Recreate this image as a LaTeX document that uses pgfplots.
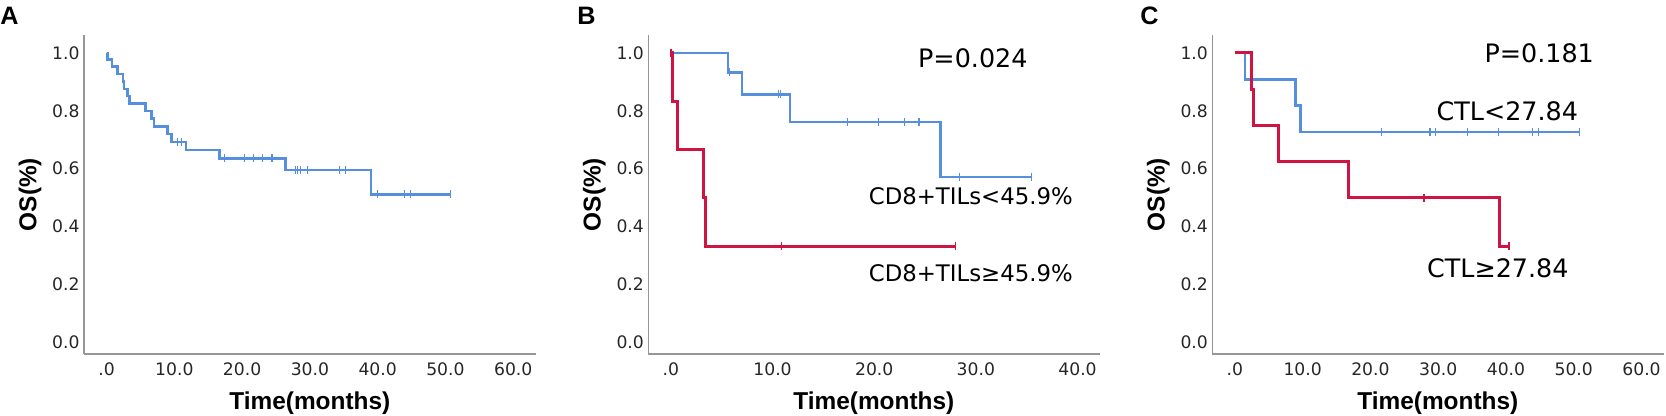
\documentclass[border=0pt]{standalone}
\usepackage{fontspec}
\setmainfont{DejaVu Sans}
\newfontfamily\lib{Liberation Sans}
\usepackage{pgfplots}
\pgfplotsset{compat=1.18}
\definecolor{kmblue}{RGB}{86,143,222}
\definecolor{kmred}{RGB}{207,20,67}
\definecolor{axgray}{RGB}{150,150,150}
\pgfplotsset{kmaxis/.style={
  scale only axis, width=225.9pt, height=159.5pt,
  axis x line*=bottom, axis y line*=left,
  axis line style={axgray, line width=0.7pt, -},
  major tick length=0pt,
  ymin=-0.04, ymax=1.062,
  ytick={0,0.2,0.4,0.6,0.8,1}, yticklabels={0.0,0.2,0.4,0.6,0.8,1.0},
  tick label style={font=\fontsize{8.6}{10}\selectfont, text=black!85},
  yticklabel style={anchor=east, inner sep=0pt, xshift=-2pt},
  xticklabel style={anchor=base, inner sep=0pt, yshift=-11pt},
  clip=false,
  /pgf/number format/assume math mode=true,
},
bluestep/.style={kmblue, line width=1.3pt, const plot, no marks},
redstep/.style={kmred, line width=1.5pt, const plot, no marks},
bluecens/.style={only marks, mark=|, mark size=2pt, kmblue, mark options={line width=0.6pt}},
redcens/.style={only marks, mark=|, mark size=2pt, kmred, mark options={line width=0.8pt}},
}
\begin{document}
\begin{tikzpicture}
\useasboundingbox (0,0) rectangle (833pt,-208pt);
% ---------- Panel A ----------
\begin{axis}[kmaxis, at={(42pt,-177pt)}, anchor=south west,
  xmin=-3.33, xmax=63.33, xtick={0,10,20,30,40,50,60},
  xticklabels={.0,10.0,20.0,30.0,40.0,50.0,60.0}]
\addplot[bluestep] coordinates {
(0,1.0) (0.1,0.978) (0.8,0.953) (1.6,0.927) (2.4,0.901) (2.6,0.876) (3.1,0.851)
(3.4,0.826) (5.7,0.800) (6.6,0.774) (7.0,0.746) (9.0,0.720) (9.6,0.693)
(11.7,0.665) (16.7,0.636) (26.4,0.595) (39.0,0.511) (50.7,0.511)};
\addplot[bluecens] coordinates {
(10.5,0.693) (11.0,0.693)
(17.4,0.636) (20.4,0.636) (21.7,0.636) (23.0,0.636) (24.4,0.636)
(27.9,0.595) (28.2,0.595) (28.6,0.595) (29.6,0.595) (34.4,0.595) (35.3,0.595)
(40.0,0.511) (43.9,0.511) (44.8,0.511) (50.7,0.511)};
\end{axis}
% ---------- Panel B ----------
\begin{axis}[kmaxis, at={(324.15pt,-177pt)}, anchor=south west,
  xmin=-2.22, xmax=42.22, xtick={0,10,20,30,40},
  xticklabels={.0,10.0,20.0,30.0,40.0}]
\addplot[bluestep] coordinates {
(0,1.0) (5.6,0.933) (7.0,0.857) (11.7,0.761) (26.5,0.571) (35.5,0.571)};
\addplot[bluecens] coordinates {
(5.8,0.933) (10.6,0.857) (10.8,0.857)
(17.4,0.761) (20.4,0.761) (23.0,0.761) (24.4,0.761)
(28.4,0.571) (35.5,0.571)};
\addplot[redstep] coordinates {
(0,1.0) (0.2,0.833) (0.7,0.667) (3.2,0.500) (3.4,0.333) (28.0,0.333)};
\addplot[redcens] coordinates {(0,1.0) (10.9,0.333) (28.0,0.333)};
\node[font=\fontsize{12.7}{14}\selectfont] at (axis cs:29.7,0.983) {P=0.024};
\node[font=\fontsize{11.4}{13}\selectfont] at (axis cs:29.5,0.504) {CD8+TILs<45.9\%};
\node[font=\fontsize{11.4}{13}\selectfont] at (axis cs:29.5,0.239) {CD8+TILs≥45.9\%};
\end{axis}
% ---------- Panel C ----------
\begin{axis}[kmaxis, at={(606.15pt,-177pt)}, anchor=south west,
  xmin=-3.33, xmax=63.33, xtick={0,10,20,30,40,50,60},
  xticklabels={.0,10.0,20.0,30.0,40.0,50.0,60.0}]
\addplot[bluestep] coordinates {
(0,1.0) (1.5,0.909) (8.9,0.818) (9.7,0.727) (50.8,0.727)};
\addplot[bluecens] coordinates {
(21.6,0.727) (28.8,0.727) (29.6,0.727) (34.3,0.727) (38.9,0.727)
(43.9,0.727) (44.8,0.727) (50.8,0.727)};
\addplot[redstep] coordinates {
(0,1.0) (2.5,0.875) (2.75,0.750) (6.5,0.625) (16.8,0.500) (39.0,0.333) (40.4,0.333)};
\addplot[redcens] coordinates {(27.9,0.500) (40.4,0.333)};
\node[font=\fontsize{12.7}{14}\selectfont] at (axis cs:44.9,1.0) {P=0.181};
\node[font=\fontsize{12.7}{14}\selectfont] at (axis cs:40.2,0.798) {CTL<27.84};
\node[font=\fontsize{12.7}{14}\selectfont] at (axis cs:38.8,0.256) {CTL≥27.84};
\end{axis}
% ---------- axis titles and panel letters ----------
\foreach \cx/\lx/\px/\L in {154.9/15/0/A, 436.9/297.15/288.5/B, 718.9/579.15/570/C}{
  \node[font=\lib\bfseries\fontsize{12.2}{14}\selectfont, anchor=base] at (\cx pt,-205pt) {Time(months)};
  \node[font=\lib\bfseries\fontsize{12.2}{14}\selectfont, rotate=90, anchor=center] at (\lx pt,-97.25pt) {OS(\%)};
  \node[font=\lib\bfseries\fontsize{12.6}{14}\selectfont, anchor=base west, inner sep=0pt] at (\px pt,-12.5pt) {\L};
}
\end{tikzpicture}
\end{document}
